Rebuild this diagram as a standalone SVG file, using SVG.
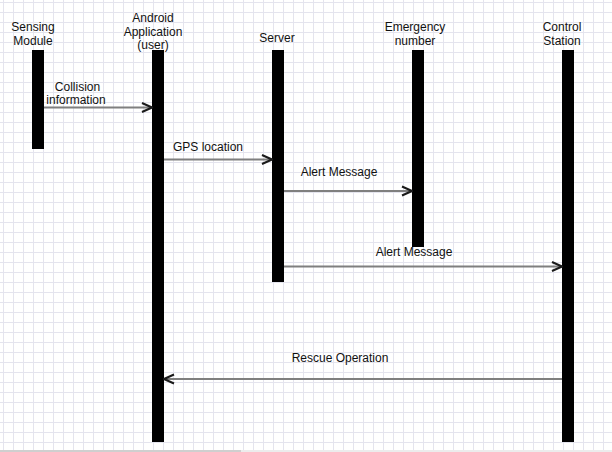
<svg xmlns="http://www.w3.org/2000/svg" width="612" height="452" viewBox="0 0 612 452">
<defs>
<pattern id="grid" x="3" y="2" width="10" height="10" patternUnits="userSpaceOnUse">
<path d="M0.5 0 V10 M0 0.5 H10" stroke="#e4e4ee" stroke-width="1" fill="none"/>
</pattern>
<marker id="arr" viewBox="0 0 12 12" refX="11" refY="6" markerWidth="12" markerHeight="12" markerUnits="userSpaceOnUse" orient="auto">
<path d="M1 1.5 L11 6 L1 10.5" fill="none" stroke="#1a1a1a" stroke-width="2"/>
</marker>
<style>
text{font-family:"Liberation Sans",Arial,sans-serif;font-size:12px;fill:#111;}
.c{text-anchor:middle;}
.bar{fill:#000;}
.msg{stroke:#7f7f7f;stroke-width:2;fill:none;marker-end:url(#arr);}
</style>
</defs>
<rect width="612" height="452" fill="#fff"/>
<rect width="612" height="452" fill="url(#grid)"/>
<rect x="0" y="450" width="612" height="2" fill="#ececec"/>
<rect x="0" y="450" width="241" height="2" fill="#cfcfcf"/>

<g id="sensing">
<text class="c" x="33" y="31">Sensing</text>
<text class="c" x="33" y="45">Module</text>
<rect class="bar" x="32" y="50" width="12" height="99"/>
</g>
<g id="android">
<text class="c" x="153" y="22">Android</text>
<text class="c" x="153" y="36">Application</text>
<text class="c" x="153" y="49">(user)</text>
<rect class="bar" x="152" y="50" width="12" height="392"/>
</g>
<g id="server">
<text class="c" x="277" y="42">Server</text>
<rect class="bar" x="272" y="50" width="12" height="232"/>
</g>
<g id="emergency">
<text class="c" x="415" y="31">Emergency</text>
<text class="c" x="415" y="45">number</text>
<rect class="bar" x="412" y="50" width="12" height="197"/>
</g>
<g id="control">
<text class="c" x="562" y="31">Control</text>
<text class="c" x="562" y="45">Station</text>
<rect class="bar" x="562" y="50" width="12" height="392"/>
</g>

<g id="connectors">
<line class="msg" x1="44" y1="107.5" x2="152" y2="107.5"/>
<line class="msg" x1="164" y1="159.5" x2="272" y2="159.5"/>
<line class="msg" x1="284" y1="191" x2="412" y2="191"/>
<line class="msg" x1="284" y1="266.5" x2="562" y2="266.5"/>
<line class="msg" x1="562" y1="379" x2="164" y2="379"/>
<text class="c" x="77.5" y="91">Collision</text>
<text class="c" x="76" y="104">information</text>
<text class="c" x="208" y="151">GPS location</text>
<text class="c" x="339" y="176">Alert Message</text>
<text class="c" x="414" y="256">Alert Message</text>
<text class="c" x="340" y="362">Rescue Operation</text>
</g>
</svg>
